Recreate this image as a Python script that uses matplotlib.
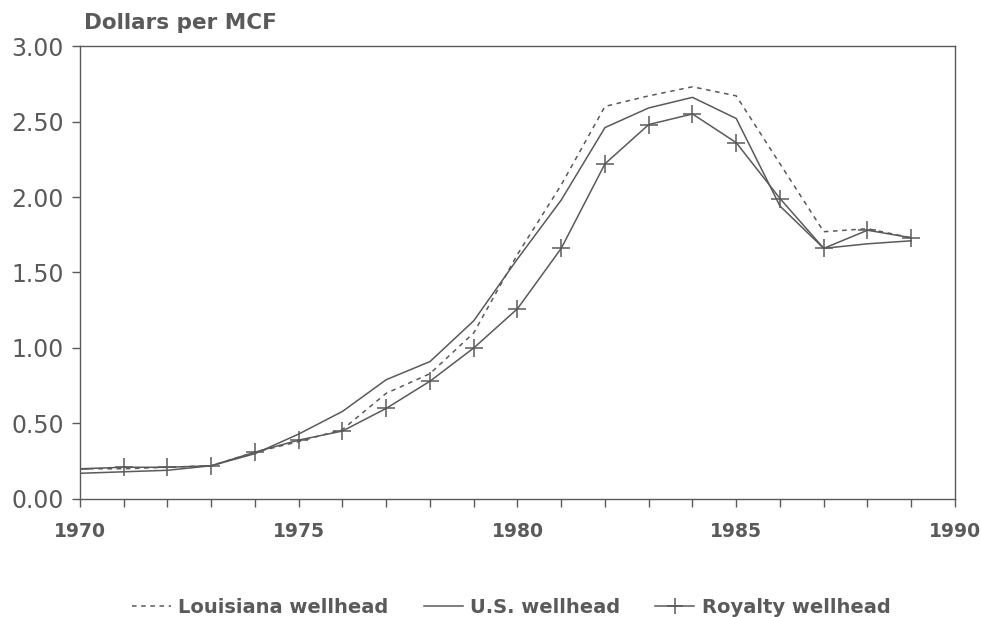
import numpy as np
import matplotlib.pyplot as plt

years = list(range(1970, 1990))
louisiana = [0.20, 0.20, 0.21, 0.22, 0.31, 0.38, 0.46, 0.70, 0.83, 1.10,
             1.62, 2.08, 2.60, 2.67, 2.73, 2.67, 2.22, 1.77, 1.79, 1.73]
us = [0.17, 0.18, 0.19, 0.22, 0.30, 0.43, 0.58, 0.79, 0.91, 1.18,
      1.59, 1.98, 2.46, 2.59, 2.66, 2.52, 1.94, 1.66, 1.69, 1.71]
royalty = [0.20, 0.21, 0.21, 0.22, 0.31, 0.39, 0.45, 0.60, 0.78, 1.00,
           1.26, 1.66, 2.22, 2.48, 2.55, 2.36, 1.99, 1.66, 1.78, 1.73]
yticks = [0.0, 0.5, 1.0, 1.5, 2.0, 2.5, 3.0]
xticks = [1970, 1975, 1980, 1985, 1990]

ink = '#5a5a5a'
plt.rcParams['font.family'] = ['DejaVu Sans']

fig = plt.figure(figsize=(9.81, 6.17), dpi=100)
ax = fig.add_axes([0.0815, 0.1913, 0.892, 0.7341])

ax.plot(years, louisiana, color=ink, lw=1.1, ls=(0, (3, 3)), label='Louisiana wellhead')
ax.plot(years, us, color=ink, lw=1.1, label='U.S. wellhead')
ax.plot(years, royalty, color=ink, lw=1.1, marker='+', ms=13, mew=1.1,
        label='Royalty wellhead')

ax.set_xlim(1970, 1990)
ax.set_ylim(0, 3)
ax.set_xticks(xticks)
ax.set_yticks(yticks)
ax.set_yticklabels(['%.2f' % v for v in yticks], fontsize=17)
ax.set_xticklabels([str(v) for v in xticks], fontsize=13.5, fontweight='bold')
ax.set_xticks(years, minor=True)
ax.tick_params(axis='both', which='major', direction='out', length=5.5, color=ink,
               labelcolor=ink, width=1)
ax.tick_params(axis='x', which='minor', direction='out', length=5.5, color=ink, width=1)
ax.tick_params(axis='y', pad=6)
ax.tick_params(axis='x', pad=11)
for s in ax.spines.values():
    s.set_color(ink)
    s.set_linewidth(1)

fig.text(0.086, 0.962, 'Dollars per MCF', color=ink, fontsize=15.5, fontweight='bold',
         ha='left', va='center')

ax.legend(loc='center', bbox_to_anchor=(0.493, -0.24), ncol=3, frameon=False,
          labelcolor=ink, handlelength=2.0, handletextpad=0.4,
          columnspacing=1.8, markerscale=0.9, prop={'weight': 'bold', 'size': 14})

fig.savefig('out.png', dpi=100)
